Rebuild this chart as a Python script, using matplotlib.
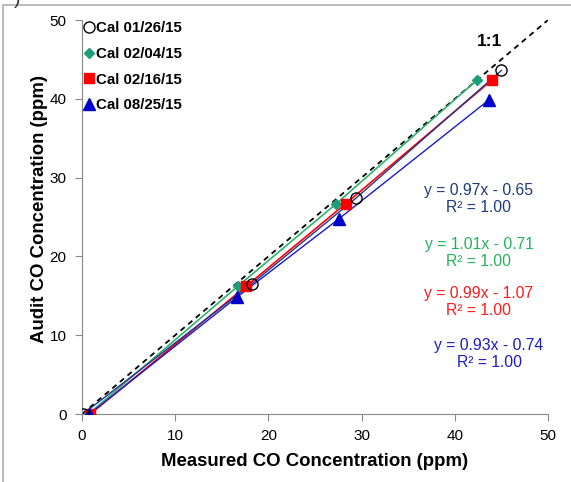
import matplotlib
matplotlib.use("Agg")
import matplotlib.pyplot as plt
from matplotlib.patches import Rectangle
from matplotlib.lines import Line2D

plt.rcParams['font.family'] = ['Liberation Sans', 'DejaVu Sans']

labels = ["Cal 01/26/15", "Cal 02/04/15", "Cal 02/16/15", "Cal 08/25/15"]
x_0126 = [0.1, 18.2, 29.4, 45.0]
y_0126 = [0.0, 16.5, 27.4, 43.6]
x_0204 = [0.7, 16.7, 27.3, 42.4]
y_0204 = [0.0, 16.2, 26.7, 42.4]
x_0216 = [0.9, 17.6, 28.3, 44.0]
y_0216 = [0.0, 16.2, 26.7, 42.4]
x_0825 = [0.8, 16.6, 27.6, 43.7]
y_0825 = [0.0, 14.8, 24.8, 39.9]
eqs = ["y = 0.97x - 0.65\nR² = 1.00", "y = 1.01x - 0.71\nR² = 1.00",
       "y = 0.99x - 1.07\nR² = 1.00", "y = 0.93x - 0.74\nR² = 1.00"]
ticks = [0, 10, 20, 30, 40, 50]

fig = plt.figure(figsize=(5.71, 4.82), dpi=100)
ax = fig.add_axes([82/571, 1-414/482, (548-82)/571, (414-20)/482])

# figure border
fig.patches.append(Rectangle((3/571, -0.05), 1.2, 1-5/482+0.05, transform=fig.transFigure,
                             fill=False, edgecolor='#b0b0b0', linewidth=1.2))
fig.text(14/571, 1.0, ")", fontsize=14, ha='left', va='center', color='#333333')

# 1:1 line
ax.plot([0, 50], [0, 50], linestyle=(0, (3, 2.5)), color='black', linewidth=1.3, zorder=2)
ax.text(43.7, 47.3, "1:1", fontsize=12.5, fontweight='bold', ha='center', va='center')

line_cols = ['#1F3A8C', '#2DB36E', '#FF0000', '#1A1ACC']
ax.plot(x_0204, y_0204, color=line_cols[1], linewidth=1.2, zorder=3)
ax.plot(x_0216, y_0216, color=line_cols[2], linewidth=1.2, zorder=3)
ax.plot(x_0825, y_0825, color=line_cols[3], linewidth=1.0, zorder=3)
ax.plot(x_0126, y_0126, color=line_cols[0], linewidth=1.0, zorder=3)

ax.plot(x_0204, y_0204, linestyle='none', marker='D', markersize=5.5, color='#1E9E78', zorder=5)
ax.plot(x_0216, y_0216, linestyle='none', marker='s', markersize=7.5, color='#FF0000', zorder=5)
ax.plot(x_0825, y_0825, linestyle='none', marker='^', markersize=8, color='#0000CC', zorder=5)
ax.plot(x_0126, y_0126, linestyle='none', marker='o', markersize=8, markerfacecolor='none',
        markeredgecolor='black', markeredgewidth=1.0, zorder=6)

eq_pos = [(478, 199), (479, 253), (479, 302), (489, 354)]
eq_cols = ['#1F3A7A', '#22B35A', '#FF1A1A', '#1A1ACC']
for (px, py), t, c in zip(eq_pos, eqs, eq_cols):
    xd = (px - 82) / ((548 - 82) / 50)
    yd = (414 - py) / ((414 - 20) / 50)
    ax.text(xd, yd, t, color=c, fontsize=11.3, ha='center', va='center', linespacing=1.2,
            multialignment='center')

ax.set_xlim(0, 50)
ax.set_ylim(0, 50)
ax.set_xticks(ticks)
ax.set_yticks(ticks)
ax.tick_params(direction='out', length=5, color='#888888', labelsize=11, pad=6)
for s in ['top', 'right']:
    ax.spines[s].set_visible(False)
for s in ['left', 'bottom']:
    ax.spines[s].set_color('#888888')
ax.set_xlabel("Measured CO Concentration (ppm)", fontsize=13.4, fontweight='bold', labelpad=7)
ax.set_ylabel("Audit CO Concentration (ppm)", fontsize=13.4, fontweight='bold')
ax.yaxis.set_label_coords(-0.072, 0.52)

handles = [
    Line2D([], [], linestyle='none', marker='o', markersize=8, markerfacecolor='none', markeredgecolor='black'),
    Line2D([], [], linestyle='none', marker='D', markersize=5.5, color='#1E9E78'),
    Line2D([], [], linestyle='none', marker='s', markersize=7.5, color='#FF0000'),
    Line2D([], [], linestyle='none', marker='^', markersize=8, color='#0000CC'),
]
leg = ax.legend(handles, labels, loc='upper left', bbox_to_anchor=(-0.018, 1.02), frameon=False,
                prop={'weight': 'bold', 'size': 10.8}, handlelength=0.8, handletextpad=0.1,
                labelspacing=0.78, borderaxespad=0.2)

fig.savefig("out.png", dpi=100)
